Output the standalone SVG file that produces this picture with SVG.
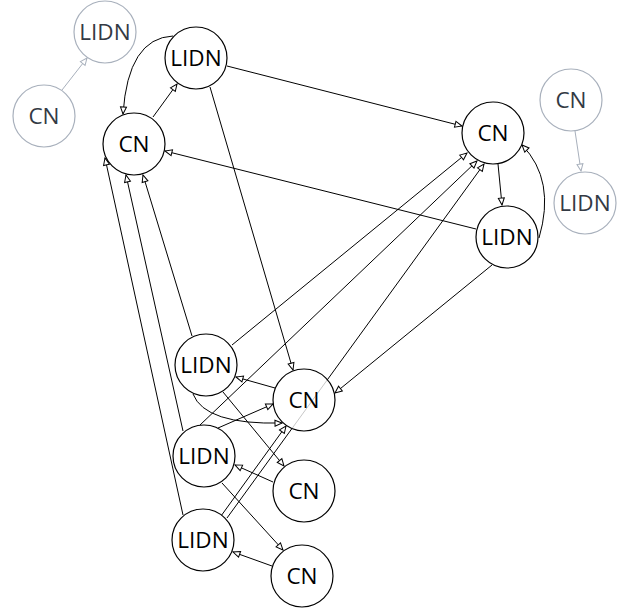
<svg xmlns="http://www.w3.org/2000/svg" width="627" height="615" viewBox="0 0 627 615">
<style>
.e{fill:none;stroke:#000;stroke-width:1;marker-end:url(#a)}
.g{fill:none;stroke:#a8b0bc;stroke-width:1;marker-end:url(#ag)}
.n circle{fill:#fff;fill-opacity:0.78;stroke:#000;stroke-width:1.2}
.n text{font-family:"Open Sans","DejaVu Sans",sans-serif;font-size:22.5px;text-anchor:middle;fill:#000}
.gn circle{fill:#fff;stroke:#a8b0bc;stroke-width:1.2}
.gn text{font-family:"Open Sans","DejaVu Sans",sans-serif;font-size:22.5px;text-anchor:middle;fill:#333a44}
</style>
<defs>
<marker id="a" markerUnits="userSpaceOnUse" markerWidth="10" markerHeight="10" refX="7" refY="3.5" orient="auto" overflow="visible"><path d="M0,0.5 L7,3.5 L0,6.5 z" fill="#fff" stroke="#000" stroke-width="1"/></marker>
<marker id="ag" markerUnits="userSpaceOnUse" markerWidth="10" markerHeight="10" refX="7" refY="3.5" orient="auto" overflow="visible"><path d="M0,0.5 L7,3.5 L0,6.5 z" fill="#fff" stroke="#a8b0bc" stroke-width="1"/></marker>
</defs>
<g id="edges">
<path class="g" d="M62,90 L87,58"/>
<path class="g" d="M575,131 L581,171"/>
<path class="e" d="M153,117 L177,84"/>
<path class="e" d="M173,36 Q128,38 123,114"/>
<path class="e" d="M227,66 L462,126"/>
<path class="e" d="M210,87 L293,370"/>
<path class="e" d="M476,229 L165,151"/>
<path class="e" d="M498,164 L502,205"/>
<path class="e" d="M539,238 Q556,180 522,145"/>
<path class="e" d="M492,265 L335,393"/>
<path class="e" d="M232,345 L467,153"/>
<path class="e" d="M200,425 L477,161"/>
<path class="e" d="M227,518 L484,164"/>
<path class="e" d="M221,516 L286,426"/>
<path class="e" d="M192,336 L143,175"/>
<path class="e" d="M183,431 L126,175"/>
<path class="e" d="M183,515 L105,158"/>
<path class="e" d="M275,388 L236,377"/>
<path class="e" d="M218,428 L273,404"/>
<path class="e" d="M193,394 Q205,425 282,423"/>
<path class="e" d="M223,392 L284,466"/>
<path class="e" d="M273,482 L235,465"/>
<path class="e" d="M222,483 L283,550"/>
<path class="e" d="M272,566 L233,552"/>
</g>
<g id="nA" class="gn"><circle cx="105" cy="32" r="31"/><text x="105" y="40">LIDN</text></g>
<g id="nB" class="gn"><circle cx="44" cy="116" r="31"/><text x="44" y="124">CN</text></g>
<g id="nG" class="gn"><circle cx="571" cy="100" r="31"/><text x="571" y="108">CN</text></g>
<g id="nH" class="gn"><circle cx="585" cy="203" r="31"/><text x="585" y="211">LIDN</text></g>
<g id="nC" class="n"><circle cx="196" cy="58" r="31"/><text x="196" y="66">LIDN</text></g>
<g id="nD" class="n"><circle cx="134" cy="144" r="31"/><text x="134" y="152">CN</text></g>
<g id="nE" class="n"><circle cx="493" cy="133" r="31"/><text x="493" y="141">CN</text></g>
<g id="nF" class="n"><circle cx="507" cy="237" r="31"/><text x="507" y="245">LIDN</text></g>
<g id="nI" class="n"><circle cx="206" cy="365" r="31"/><text x="206" y="373">LIDN</text></g>
<g id="nJ" class="n"><circle cx="304" cy="400" r="31"/><text x="304" y="408">CN</text></g>
<g id="nK" class="n"><circle cx="204" cy="456" r="31"/><text x="204" y="464">LIDN</text></g>
<g id="nL" class="n"><circle cx="304" cy="491" r="31"/><text x="304" y="499">CN</text></g>
<g id="nM" class="n"><circle cx="203" cy="540" r="31"/><text x="203" y="548">LIDN</text></g>
<g id="nN" class="n"><circle cx="302" cy="576" r="31"/><text x="302" y="584">CN</text></g>
</svg>
